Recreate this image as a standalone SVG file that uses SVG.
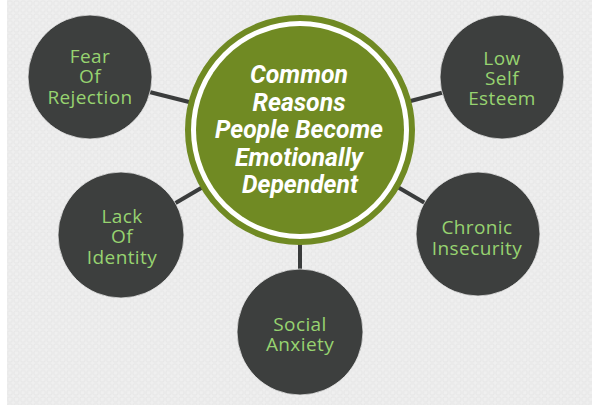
<svg xmlns="http://www.w3.org/2000/svg" width="599" height="407" viewBox="0 0 599 407">
  <defs>
    <pattern id="grid" width="6.6" height="6.6" patternUnits="userSpaceOnUse">
      <rect x="0" y="0" width="6.6" height="6.6" fill="#efefef"/>
      <rect x="1" y="1" width="4.6" height="4.6" rx="1" fill="none" stroke="#e4e4e4" stroke-width="0.9"/>
    </pattern>
    <style>
      .conn { stroke: #3a3c3c; stroke-width: 4; fill: none; }
      .node { fill: #3d3f3e; stroke: #e8e8e8; stroke-width: 0.8; }
      .lbl { font-family: "Open Sans", "Noto Sans", "Liberation Sans", sans-serif; font-size: 19px; letter-spacing: 0.4px; fill: #97d370; text-anchor: middle; }
      .title { font-family: Roboto, "Liberation Sans", sans-serif; font-size: 26px; font-weight: bold; font-style: italic; fill: #ffffff; text-anchor: middle; }
    </style>
  </defs>
  <rect x="0" y="0" width="599" height="407" fill="#ffffff"/>
  <rect x="7" y="0" width="585" height="405" fill="url(#grid)"/>

  <g id="connectors">
    <line class="conn" x1="300" y1="130" x2="90" y2="77"/>
    <line class="conn" x1="300" y1="130" x2="502" y2="77"/>
    <line class="conn" x1="300" y1="130" x2="121" y2="235"/>
    <line class="conn" x1="300" y1="130" x2="478" y2="234"/>
    <line class="conn" x1="300" y1="130" x2="300" y2="332"/>
  </g>

  <g id="center">
    <circle cx="300" cy="130" r="112" fill="#ffffff" stroke="#708a23" stroke-width="6"/>
    <circle cx="300" cy="130" r="104" fill="#708a23"/>
    <text class="title" x="299" y="83" textLength="98" lengthAdjust="spacingAndGlyphs">Common</text>
    <text class="title" x="299" y="111" textLength="93" lengthAdjust="spacingAndGlyphs">Reasons</text>
    <text class="title" x="299" y="138" textLength="168" lengthAdjust="spacingAndGlyphs">People Become</text>
    <text class="title" x="299" y="166" textLength="128" lengthAdjust="spacingAndGlyphs">Emotionally</text>
    <text class="title" x="300" y="193" textLength="116" lengthAdjust="spacingAndGlyphs">Dependent</text>
  </g>

  <g id="fear-of-rejection">
    <circle class="node" cx="90" cy="77" r="62"/>
    <text class="lbl" x="90" y="63">Fear</text>
    <text class="lbl" x="90" y="83">Of</text>
    <text class="lbl" x="90" y="104">Rejection</text>
  </g>

  <g id="low-self-esteem">
    <circle class="node" cx="502" cy="77" r="62"/>
    <text class="lbl" x="502" y="65">Low</text>
    <text class="lbl" x="502" y="85">Self</text>
    <text class="lbl" x="502" y="105">Esteem</text>
  </g>

  <g id="lack-of-identity">
    <circle class="node" cx="121" cy="235" r="63"/>
    <text class="lbl" x="122" y="223">Lack</text>
    <text class="lbl" x="122" y="243">Of</text>
    <text class="lbl" x="122" y="264">Identity</text>
  </g>

  <g id="chronic-insecurity">
    <circle class="node" cx="478" cy="234" r="62"/>
    <text class="lbl" x="477" y="234">Chronic</text>
    <text class="lbl" x="477" y="255">Insecurity</text>
  </g>

  <g id="social-anxiety">
    <circle class="node" cx="300" cy="332" r="63"/>
    <text class="lbl" x="300" y="331">Social</text>
    <text class="lbl" x="300" y="351">Anxiety</text>
  </g>
</svg>
